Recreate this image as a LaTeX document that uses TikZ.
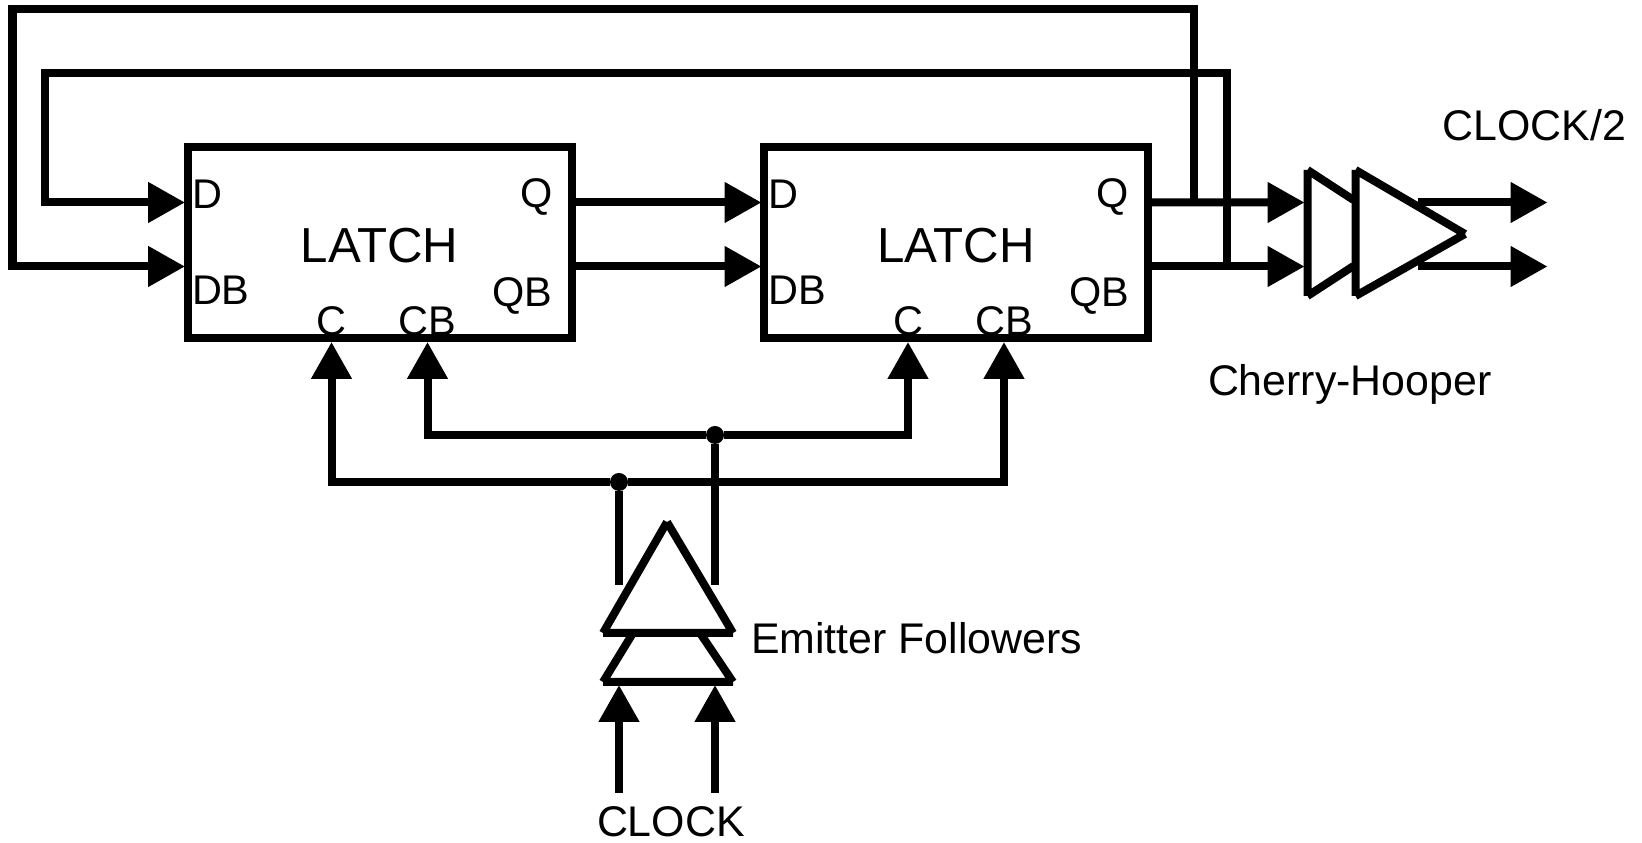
\documentclass[tikz,border=0pt]{standalone}
\usepackage{fontspec}
\setmainfont{Liberation Sans}
\usetikzlibrary{arrows.meta,positioning}
\newcommand{\fsz}[1]{\fontsize{#1}{#1}\selectfont}

\begin{document}
\begin{tikzpicture}[
  every node/.style={font=\fsz{23.6pt}, inner sep=0pt, outer sep=0pt},
  latch/.style={draw, line width=0.16cm, minimum width=7.68cm, minimum height=3.82cm, text height=0.8cm, font=\fsz{28pt}},
  pinlabel/.style={anchor=base},
  caption/.style={anchor=base west, font=\fsz{24.4pt}},
  dot/.style={circle, fill, minimum size=0.36cm},
  wire/.style={line width=0.16cm},
  arrow/.style={wire, -{Triangle[length=0.74cm, width=0.78cm]}}
]
\useasboundingbox (0,0) rectangle (32.84,16.86);

\node[latch] (l1) at (7.59,12.0) {LATCH};
\node[latch, right=3.85cm of l1] (l2) {LATCH};

% pins of the latches
\coordinate (l1d) at ([xshift=-0.05cm, yshift=-1.1cm]l1.north west);
\coordinate (l1db) at ([xshift=-0.05cm, yshift=-2.38cm]l1.north west);
\coordinate (l1q) at ([yshift=-1.1cm]l1.north east);
\coordinate (l1qb) at ([yshift=-2.38cm]l1.north east);
\coordinate (l1c) at ([xshift=2.88cm, yshift=-0.07cm]l1.south west);
\coordinate (l1cb) at ([xshift=4.8cm, yshift=-0.07cm]l1.south west);
\coordinate (l2d) at ([xshift=-0.05cm, yshift=-1.1cm]l2.north west);
\coordinate (l2db) at ([xshift=-0.05cm, yshift=-2.38cm]l2.north west);
\coordinate (l2q) at ([yshift=-1.1cm]l2.north east);
\coordinate (l2qb) at ([yshift=-2.38cm]l2.north east);
\coordinate (l2c) at ([xshift=2.88cm, yshift=-0.07cm]l2.south west);
\coordinate (l2cb) at ([xshift=4.8cm, yshift=-0.07cm]l2.south west);

\node[pinlabel, anchor=base west] (l1dl) at ([xshift=0.09cm, yshift=-1.23cm]l1.north west) {D};
\node[pinlabel, anchor=base west] (l1dbl) at ([xshift=0.09cm, yshift=-3.15cm]l1.north west) {DB};
\node[pinlabel, anchor=base east] (l1ql) at ([xshift=-0.38cm, yshift=-1.21cm]l1.north east) {Q};
\node[pinlabel, anchor=base east] (l1qbl) at ([xshift=-0.38cm, yshift=-3.19cm]l1.north east) {QB};
\node[pinlabel] (l1cl) at ([xshift=2.88cm, yshift=0.06cm]l1.south west) {C};
\node[pinlabel] (l1cbl) at ([xshift=4.8cm, yshift=0.06cm]l1.south west) {CB};
\node[pinlabel, anchor=base west] (l2dl) at ([xshift=0.09cm, yshift=-1.23cm]l2.north west) {D};
\node[pinlabel, anchor=base west] (l2dbl) at ([xshift=0.09cm, yshift=-3.15cm]l2.north west) {DB};
\node[pinlabel, anchor=base east] (l2ql) at ([xshift=-0.38cm, yshift=-1.21cm]l2.north east) {Q};
\node[pinlabel, anchor=base east] (l2qbl) at ([xshift=-0.38cm, yshift=-3.19cm]l2.north east) {QB};
\node[pinlabel] (l2cl) at ([xshift=2.88cm, yshift=0.06cm]l2.south west) {C};
\node[pinlabel] (l2cbl) at ([xshift=4.8cm, yshift=0.06cm]l2.south west) {CB};

% Cherry-Hooper stage
\coordinate (cha) at (26.15,13.46);
\coordinate (chb) at (27.07,12.86);
\coordinate (chc) at (27.07,11.54);
\coordinate (chd) at (26.15,10.94);
\coordinate (che) at (27.11,13.46);
\coordinate (chf) at (29.3,12.18);
\coordinate (chg) at (27.11,10.94);
\draw[wire] (cha) -- (chb) (chc) -- (chd) (chd) -- (cha);
\draw[wire] (che) -- (chf) (chf) -- (chg) (chg) -- (che);
\coordinate (chin) at (26.09,12.81);
\coordinate (chinb) at (26.09,11.53);
\coordinate (chout) at (28.35,12.81);
\coordinate (choutb) at (28.35,11.53);
\coordinate (clk2) at (30.95,12.81);
\coordinate (clk2b) at (30.95,11.53);

% emitter followers
\coordinate (efa) at (13.34,6.42);
\coordinate (efb) at (12.06,4.2);
\coordinate (efc) at (14.66,4.2);
\coordinate (efd) at (12.66,4.2);
\coordinate (efe) at (14.0,4.2);
\coordinate (eff) at (12.06,3.22);
\coordinate (efg) at (14.66,3.22);
\draw[wire] (efa) -- (efb) (efb) -- (efc) (efc) -- (efa);
\draw[wire] (efd) -- (eff) (eff) -- (efg) (efg) -- (efe);

\node[dot] (j1) at (14.3,8.16) {};
\node[dot] (j2) at (12.38,7.22) {};
\coordinate (efout) at (12.38,5.16);
\coordinate (efoutb) at (14.3,5.16);
\coordinate (clk) at (12.38,1.0);
\coordinate (clkb) at (14.3,1.0);
\coordinate (efin) at (12.38,3.16);
\coordinate (efinb) at (14.3,3.16);

% feedback corners
\coordinate (tapq) at (23.88,12.81);
\coordinate (tapqb) at (24.54,11.53);
\coordinate (fbq) at (23.88,16.68);
\coordinate (fbql) at (0.25,16.68);
\coordinate (fbqb) at (24.54,15.4);
\coordinate (fbqbl) at (0.89,15.4);

\draw[arrow] (l1q) -- (l2d);
\draw[arrow] (l1qb) -- (l2db);
\draw[arrow] (l2q) -- (chin);
\draw[arrow] (l2qb) -- (chinb);
\draw[arrow] (chout) -- (clk2);
\draw[arrow] (choutb) -- (clk2b);
\draw[arrow] (tapq) -- (fbq) -- (fbql) |- (l1db);
\draw[arrow] (tapqb) -- (fbqb) -- (fbqbl) |- (l1d);
\draw[arrow] (j1) -| (l1cb);
\draw[arrow] (j1) -| (l2c);
\draw[arrow] (j2) -| (l1c);
\draw[arrow] (j2) -| (l2cb);
\draw[wire] (j2) -- (efout);
\draw[wire] (j1) -- (efoutb);
\draw[arrow] (clk) -- (efin);
\draw[arrow] (clkb) -- (efinb);

\node[caption] (clk2l) at (28.85,14.04) {CLOCK/2};
\node[caption] (chl) at (24.16,8.94) {Cherry-Hooper};
\node[caption] (efl) at (15.02,3.78) {Emitter Followers};
\node[caption] (clkl) at (11.94,0.12) {CLOCK};
\end{tikzpicture}
\end{document}
